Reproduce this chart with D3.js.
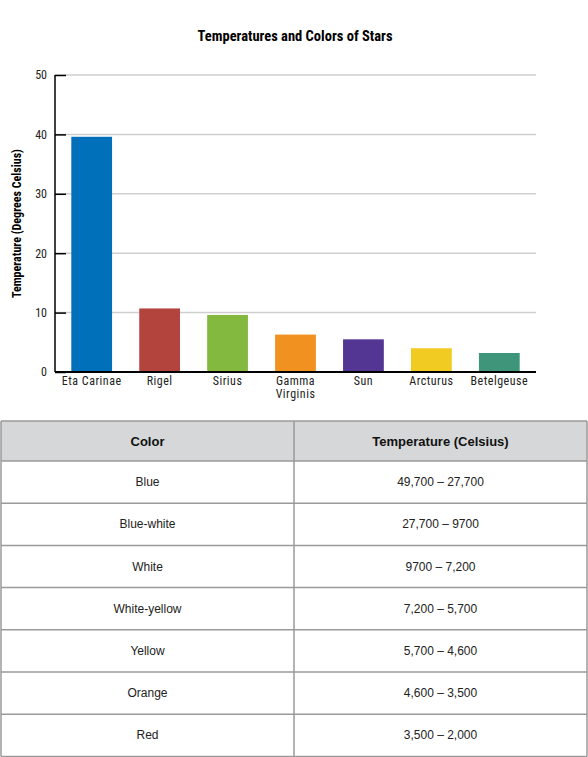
<!DOCTYPE html>
<html>
<head>
<meta charset="utf-8">
<script src="https://cdn.jsdelivr.net/npm/d3@7"></script>
<style>
  body { margin: 0; background: #fff; }
  text { font-family: "Liberation Sans Narrow", "Roboto Condensed", "Liberation Sans", Arial, sans-serif; }
  .tbl text { font-family: "Liberation Sans", Arial, sans-serif; }
</style>
</head>
<body>
<div id="app"></div>
<script>
var stars = ["Eta Carinae", "Rigel", "Sirius", "Gamma Virginis", "Sun", "Arcturus", "Betelgeuse"];
var temps = [39.6, 10.7, 9.6, 6.3, 5.5, 4.0, 3.2];
var barColors = ["#0070ba", "#b3443d", "#84b940", "#f1911f", "#533593", "#f1cb22", "#3e957a"];
var yTicks = [0, 10, 20, 30, 40, 50];

var colorNames = ["Blue", "Blue-white", "White", "White-yellow", "Yellow", "Orange", "Red"];
var colorRanges = ["49,700 \u2013 27,700", "27,700 \u2013 9700", "9700 \u2013 7,200", "7,200 \u2013 5,700",
    "5,700 \u2013 4,600", "4,600 \u2013 3,500", "3,500 \u2013 2,000"];
var headers = ["Color", "Temperature (Celsius)"];

var W = 588, H = 757;
var plotL = 55, plotR = 536, plotT = 75, plotB = 372;

var svg = d3.select("#app").append("svg")
    .attr("width", W)
    .attr("height", H);

// TITLE
svg.append("text")
    .attr("x", 295)
    .attr("y", 41)
    .attr("text-anchor", "middle")
    .style("font-size", "14.5px")
    .style("font-weight", "bold")
    .text("Temperatures and Colors of Stars");

var x = d3.scaleBand()
    .domain(stars)
    .range([plotL, plotR])
    .paddingInner(0.4)
    .paddingOuter(0.24);

var y = d3.scaleLinear()
    .domain([0, 50])
    .range([plotB, plotT]);

// GRID
svg.selectAll(".grid")
    .data(yTicks.filter(function (t) { return t > 0; }))
    .enter()
    .append("line")
    .attr("class", "grid")
    .attr("x1", plotL)
    .attr("x2", plotR)
    .attr("y1", function (t) { return y(t); })
    .attr("y2", function (t) { return y(t); })
    .style("stroke", "#cfcfcf")
    .style("stroke-width", 1.5);

// BARS
svg.selectAll(".bar")
    .data(stars)
    .enter()
    .append("rect")
    .attr("class", "bar")
    .attr("x", function (d) { return x(d); })
    .attr("y", function (d, i) { return y(temps[i]); })
    .attr("width", x.bandwidth())
    .attr("height", function (d, i) { return y(0) - y(temps[i]); })
    .style("fill", function (d, i) { return barColors[i]; });

// Y AXIS
var yAxis = svg.append("g")
    .attr("transform", "translate(" + plotL + ",0)")
    .call(d3.axisRight(y).tickValues(yTicks).tickSize(11).tickFormat(d3.format("d")));
yAxis.select(".domain").remove();
yAxis.selectAll(".tick line").style("stroke", "#000").style("stroke-width", 1.5);
yAxis.selectAll(".tick text")
    .attr("x", -8)
    .attr("text-anchor", "end")
    .style("font-size", "12px")
    .style("fill", "#222");

svg.append("line")
    .attr("x1", plotL).attr("x2", plotL)
    .attr("y1", plotT).attr("y2", plotB)
    .style("stroke", "#000").style("stroke-width", 1.5);

// X AXIS
svg.append("line")
    .attr("x1", plotL).attr("x2", plotR)
    .attr("y1", plotB).attr("y2", plotB)
    .style("stroke", "#000").style("stroke-width", 1.8);

var xLabels = svg.selectAll(".xlab")
    .data(stars)
    .enter()
    .append("text")
    .attr("class", "xlab")
    .attr("text-anchor", "middle")
    .attr("y", 385)
    .style("font-size", "12px")
    .style("letter-spacing", "0.5px")
    .style("fill", "#222");
xLabels.each(function (d) {
    var words = d === "Gamma Virginis" ? d.split(" ") : [d];
    var t = d3.select(this);
    words.forEach(function (w, k) {
        t.append("tspan")
            .attr("x", x(d) + x.bandwidth() / 2)
            .attr("dy", k === 0 ? 0 : 13)
            .text(w);
    });
});

svg.append("text")
    .attr("transform", "translate(21," + ((plotT + plotB) / 2) + ") rotate(-90)")
    .attr("text-anchor", "middle")
    .style("font-size", "12px")
    .style("font-weight", "bold")
    .text("Temperature (Degrees Celsius)");

// TABLE
var tblL = 1, tblR = 587, tblT = 421, headH = 40, rowH = 42.2;
var colX = [tblL, 294, tblR];
var tbl = svg.append("g").attr("class", "tbl");

tbl.append("rect")
    .attr("x", tblL).attr("y", tblT)
    .attr("width", tblR - tblL).attr("height", headH)
    .style("fill", "#d5d7d8");

var rowTops = d3.range(colorNames.length + 1).map(function (i) {
    return i === 0 ? tblT : tblT + headH + (i - 1) * rowH;
});
var tblB = tblT + headH + colorNames.length * rowH;

tbl.selectAll(".hline")
    .data(rowTops.concat([tblB]))
    .enter()
    .append("line")
    .attr("x1", tblL).attr("x2", tblR)
    .attr("y1", function (d) { return d; })
    .attr("y2", function (d) { return d; })
    .style("stroke", "#9a9a9a").style("stroke-width", 1.5);

tbl.selectAll(".vline")
    .data(colX)
    .enter()
    .append("line")
    .attr("x1", function (d) { return d; }).attr("x2", function (d) { return d; })
    .attr("y1", tblT).attr("y2", tblB)
    .style("stroke", "#9a9a9a").style("stroke-width", 1.5);

tbl.selectAll(".head")
    .data(headers)
    .enter()
    .append("text")
    .attr("x", function (d, i) { return (colX[i] + colX[i + 1]) / 2; })
    .attr("y", tblT + headH / 2 + 5)
    .attr("text-anchor", "middle")
    .style("font-size", "13px")
    .style("font-weight", "bold")
    .style("fill", "#111")
    .text(function (d) { return d; });

[colorNames, colorRanges].forEach(function (col, c) {
    tbl.selectAll(".cell" + c)
        .data(col)
        .enter()
        .append("text")
        .attr("x", (colX[c] + colX[c + 1]) / 2)
        .attr("y", function (d, i) { return tblT + headH + i * rowH + rowH / 2 + 4; })
        .attr("text-anchor", "middle")
        .style("font-size", "12px")
        .style("fill", "#222")
        .text(function (d) { return d; });
});
</script>
</body>
</html>
